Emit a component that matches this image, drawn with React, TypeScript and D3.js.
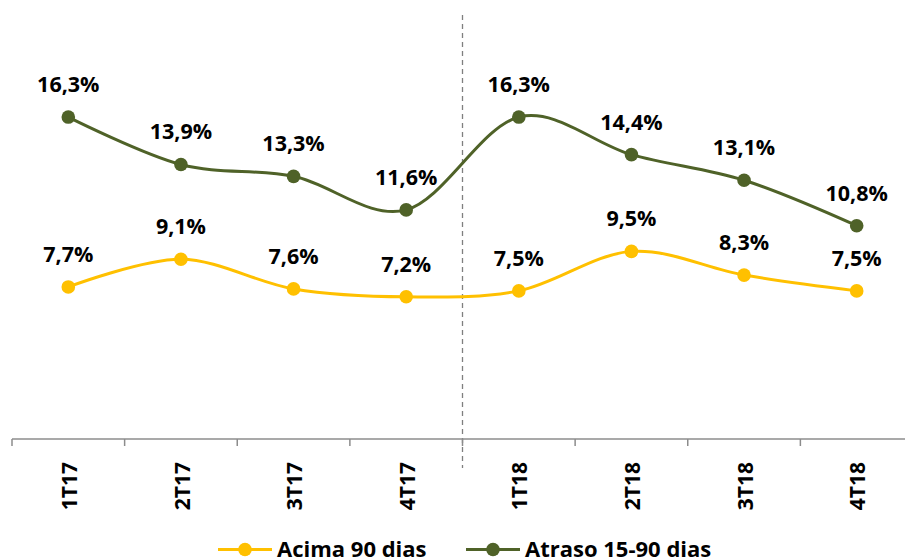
import React from "react";
import * as d3 from "d3";

const categories = ["1T17", "2T17", "3T17", "4T17", "1T18", "2T18", "3T18", "4T18"];
const acima90 = [7.7, 9.1, 7.6, 7.2, 7.5, 9.5, 8.3, 7.5];
const atraso1590 = [16.3, 13.9, 13.3, 11.6, 16.3, 14.4, 13.1, 10.8];
const seriesNames = ["Acima 90 dias", "Atraso 15-90 dias"];

const W = 905;
const H = 559;
const YELLOW = "#FFC000";
const GREEN = "#4F6228";
const FONT = "'Open Sans', sans-serif";

export default function App() {
  const x = d3.scaleBand<string>().domain(categories).range([12, 913]);
  const y = d3.scaleLinear().domain([0, 20]).range([439, 439 - 20 * 19.75]);
  const cx = (c: string) => (x(c) as number) + x.bandwidth() / 2;
  const line = d3
    .line<number>()
    .x((_, i) => cx(categories[i]))
    .y((d) => y(d))
    .curve(d3.curveCardinal.tension(0));
  const fmt = (v: number) => v.toFixed(1).replace(".", ",") + "%";
  const divX = x("1T18") as number;

  const series = [
    { name: seriesNames[0], values: acima90, color: YELLOW },
    { name: seriesNames[1], values: atraso1590, color: GREEN },
  ];

  return (
    <svg width={W} height={H} style={{ position: "absolute", left: 0, top: 0 }}>
      <rect width={W} height={H} fill="#fff" />
      <line x1={divX} x2={divX} y1={15} y2={468} stroke="#7f7f7f" strokeWidth={1.3} strokeDasharray="5,4" />
      <line x1={12} x2={W} y1={439} y2={439} stroke="#8c8c8c" strokeWidth={1.5} />
      {categories.map((c) => (
        <line key={"t" + c} x1={x(c) as number} x2={x(c) as number} y1={439} y2={446} stroke="#8c8c8c" strokeWidth={1.5} />
      ))}
      {categories.map((c) => (
        <text
          key={"l" + c}
          transform={`translate(${cx(c) + 1},462) rotate(-90)`}
          dy="0.36em"
          textAnchor="end"
          fontFamily={FONT}
          fontWeight={700}
          fontSize={21}
          fill="#000"
        >
          {c}
        </text>
      ))}
      {series.map((s) => (
        <g key={s.name}>
          <path d={line(s.values) as string} fill="none" stroke={s.color} strokeWidth={3} />
          {s.values.map((v, i) => (
            <circle key={i} cx={cx(categories[i])} cy={y(v)} r={6.8} fill={s.color} />
          ))}
          {s.values.map((v, i) => (
            <text
              key={"d" + i}
              x={cx(categories[i])}
              y={y(v) - 25}
              textAnchor="middle"
              fontFamily={FONT}
              fontWeight={700}
              fontSize={21.5}
              fill="#000"
            >
              {fmt(v)}
            </text>
          ))}
        </g>
      ))}
      {[
        { name: seriesNames[0], color: YELLOW, x0: 218 },
        { name: seriesNames[1], color: GREEN, x0: 466 },
      ].map((l) => (
        <g key={"lg" + l.name}>
          <line x1={l.x0} x2={l.x0 + 54} y1={549.5} y2={549.5} stroke={l.color} strokeWidth={3} />
          <circle cx={l.x0 + 27} cy={549.5} r={6.8} fill={l.color} />
          <text x={l.x0 + 59} y={557} fontFamily={FONT} fontWeight={700} fontSize={22} fill="#000">
            {l.name}
          </text>
        </g>
      ))}
    </svg>
  );
}
